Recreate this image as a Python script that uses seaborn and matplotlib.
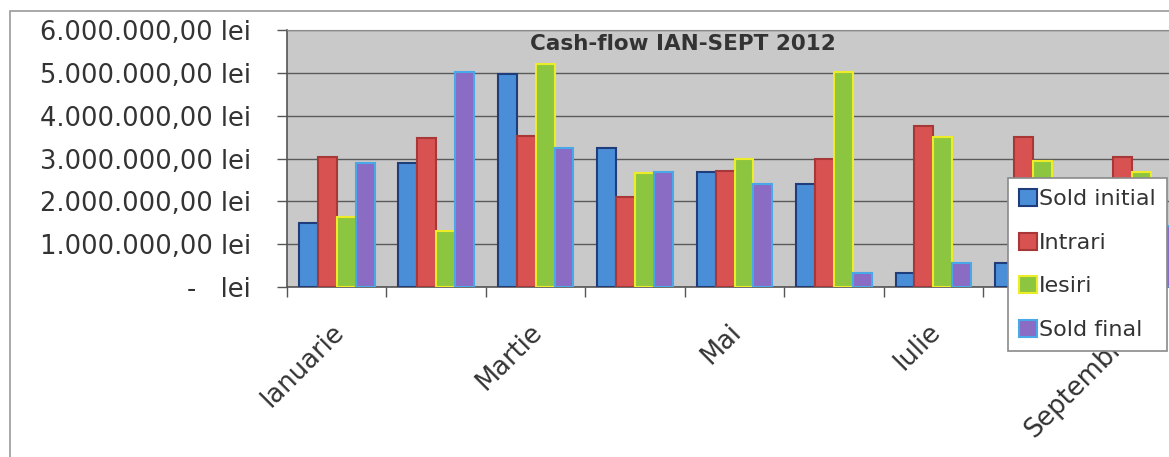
import matplotlib
matplotlib.use("Agg")
import matplotlib.pyplot as plt
import matplotlib.ticker as mticker
from matplotlib.patches import Patch, Rectangle
from matplotlib.transforms import ScaledTranslation
import seaborn as sns
import pandas as pd

# ---- data (lei) ----
months = ["Ianuarie", "Februarie", "Martie", "Aprilie", "Mai",
          "Iunie", "Iulie", "August", "Septembrie"]
series_names = ["Sold initial", "Intrari", "Iesiri", "Sold final"]
sold_initial = [1500000, 2890000, 4970000, 3250000, 2680000, 2400000, 320000, 550000, 1130000]
intrari      = [3040000, 3470000, 3530000, 2110000, 2710000, 3000000, 3760000, 3510000, 3040000]
iesiri       = [1640000, 1310000, 5200000, 2670000, 2980000, 5010000, 3510000, 2930000, 2690000]
sold_final   = [2890000, 5010000, 3250000, 2690000, 2400000, 320000, 550000, 1130000, 1420000]
shown_labels = ["Ianuarie", "Martie", "Mai", "Iulie", "Septembrie"]
title = "Cash-flow IAN-SEPT 2012"
yticks = [0, 1000000, 2000000, 3000000, 4000000, 5000000, 6000000]

fills = {"Sold initial": "#4a8ed8", "Intrari": "#d85252",
         "Iesiri": "#8cc640", "Sold final": "#8a6cc4"}
edges = {"Sold initial": "#1f3d7a", "Intrari": "#a83838",
         "Iesiri": "#ecec28", "Sold final": "#48a8e8"}

rows = []
for name, vals in zip(series_names, [sold_initial, intrari, iesiri, sold_final]):
    for m, v in zip(months, vals):
        rows.append({"Luna": m, "Serie": name, "Valoare": v})
df = pd.DataFrame(rows)

W, H = 1169, 457
fig = plt.figure(figsize=(W / 100, H / 100), dpi=100)
fig.patch.set_facecolor("white")
# outer chart border
fig.patches.append(Rectangle((10 / W, -0.1), 1.2, 1.1 - 11 / H, transform=fig.transFigure,
                             fill=False, edgecolor="#9a9a9a", linewidth=1.2, zorder=0))

left, right, top, bottom = 287, 1182, 30, 287
ax = fig.add_axes([left / W, 1 - bottom / H, (right - left) / W, (bottom - top) / H])
ax.set_facecolor("#c9c9c9")

sns.barplot(data=df, x="Luna", y="Valoare", hue="Serie", order=months,
            hue_order=series_names, palette=fills, width=0.76, gap=0,
            saturation=1, ax=ax, legend=False, zorder=3)
for cont, name in zip(ax.containers, series_names):
    for p in cont.patches:
        p.set_edgecolor(edges[name])
        p.set_linewidth(1.5)

ax.set_xlim(-0.5, len(months) - 0.5)
ax.set_ylim(0, 6000000)
ax.set_xlabel("")
ax.set_ylabel("")

# grid
ax.set_yticks(yticks)
ax.yaxis.grid(True, color="#5a5a5a", linewidth=1.0, zorder=1)
ax.xaxis.grid(False)
ax.set_axisbelow(True)

def fmt(v, pos):
    if v == 0:
        return "-   lei"
    s = f"{v:,.2f}".replace(",", "X").replace(".", ",").replace("X", ".")
    return s + " lei"

ax.yaxis.set_major_formatter(mticker.FuncFormatter(fmt))
ax.tick_params(axis="y", length=7, width=1, color="#555555", pad=19,
               labelsize=18.5, labelcolor="#333333", direction="out")

pos = [months.index(m) for m in shown_labels]
ax.set_xticks(pos)
ax.set_xticklabels(shown_labels, rotation=45, ha="right", rotation_mode="anchor")
ax.set_xticks([i - 0.5 for i in range(len(months) + 1)], minor=True)
ax.tick_params(axis="x", which="major", length=0, pad=23, labelsize=18.5, labelcolor="#333333")
ax.tick_params(axis="x", which="minor", length=7, width=1, color="#555555")
shift = ScaledTranslation(-6 / 100, 0, fig.dpi_scale_trans)
for lab in ax.get_xticklabels():
    lab.set_transform(lab.get_transform() + shift)

for s in ["left", "bottom"]:
    ax.spines[s].set_color("#555555")
    ax.spines[s].set_linewidth(1.2)
ax.spines["top"].set_color("#8a8a8a")
ax.spines["right"].set_visible(False)

fig.text(683 / W, 1 - 44 / H, title, ha="center", va="center",
         fontsize=15.5, fontweight="bold", color="#333333")

handles = [Patch(facecolor=fills[n], edgecolor=edges[n], linewidth=1.5, label=n)
           for n in series_names]
leg = ax.legend(handles=handles, loc="upper left",
                bbox_to_anchor=(1008 / W, 1 - 178 / H), bbox_transform=fig.transFigure,
                fontsize=16, frameon=True, fancybox=False, framealpha=1,
                handlelength=0.8, handleheight=0.8, handletextpad=0.1,
                labelspacing=1.05, borderpad=0.5, borderaxespad=0)
leg.get_frame().set_edgecolor("#8a8a8a")
leg.get_frame().set_linewidth(1.2)
for t in leg.get_texts():
    t.set_color("#333333")
leg.set_zorder(10)

fig.savefig("out.png", dpi=100)
